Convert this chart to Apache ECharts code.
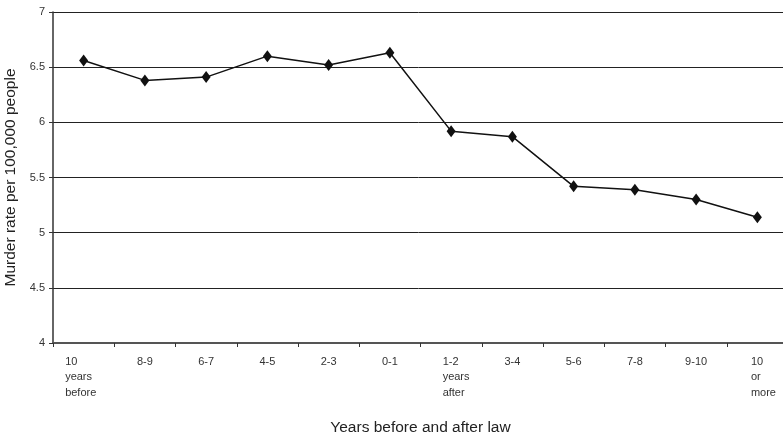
<!DOCTYPE html>
<html>
<head>
<meta charset="utf-8">
<script src="https://cdn.jsdelivr.net/npm/echarts@6/dist/echarts.min.js"></script>
<style>
html,body{margin:0;padding:0;background:#fff;}
#c{width:783px;height:440px;}
</style>
</head>
<body>
<div id="c"></div>
<script>
const categories = ['10\nyears\nbefore','8-9','6-7','4-5','2-3','0-1','1-2\nyears\nafter','3-4','5-6','7-8','9-10','10\nor\nmore'];
const murderRate = [6.56, 6.38, 6.41, 6.60, 6.52, 6.63, 5.92, 5.87, 5.42, 5.39, 5.30, 5.14];
const yTicks = [4, 4.5, 5, 5.5, 6, 6.5, 7];

const chart = echarts.init(document.getElementById('c'));
const font = '"Liberation Sans", Arial, sans-serif';
const base = {fontFamily: font, fontSize: 11, color: '#333', lineHeight: 15.5, align: 'left'};
chart.setOption({
  animation: false,
  grid: {left: 53, right: -5, top: 12, bottom: 97, containLabel: false, outerBoundsMode: 'none'},
  xAxis: {
    type: 'category',
    data: categories,
    boundaryGap: true,
    name: 'Years before and after law',
    nameLocation: 'middle',
    nameGap: 77,
    nameTextStyle: {fontFamily: font, fontSize: 15.5, color: '#222'},
    axisLine: {lineStyle: {color: '#555', width: 2}},
    axisTick: {show: true, length: 4, lineStyle: {color: '#333'}},
    axisLabel: {
      interval: 0,
      margin: 11,
      formatter: function (v, i) {
        if (v.indexOf('\n') >= 0) {
          const st = i === 0 ? 'a' : (i === 6 ? 'b' : 'c');
          return v.split('\n').map(s => '{' + st + '|' + s + '}').join('\n');
        }
        return v;
      },
      fontFamily: font, fontSize: 11, color: '#333', lineHeight: 15.5,
      rich: {
        a: Object.assign({width: 37}, base),
        b: Object.assign({width: 26, padding: [0, 0, 0, 9]}, base),
        c: Object.assign({width: 26, padding: [0, 0, 0, 13]}, base)
      }
    }
  },
  yAxis: {
    type: 'value',
    min: 4, max: 7, interval: 0.5,
    name: 'Murder rate per 100,000 people',
    nameLocation: 'middle',
    nameGap: 32,
    nameTextStyle: {fontFamily: font, fontSize: 15.5, color: '#222'},
    axisLine: {show: true, lineStyle: {color: '#333', width: 1.5}},
    axisTick: {show: true, length: 4, lineStyle: {color: '#333'}},
    axisLabel: {
      margin: 8, fontFamily: font, fontSize: 11, color: '#333',
      formatter: function (v) { return yTicks.indexOf(v) >= 0 ? String(v) : ''; }
    },
    splitLine: {show: true, lineStyle: {color: '#222', width: 1}}
  },
  series: [{
    type: 'line',
    data: murderRate,
    symbol: 'diamond',
    symbolSize: [9, 12],
    lineStyle: {color: '#111', width: 1.5},
    itemStyle: {color: '#111'}
  }]
});
</script>
</body>
</html>
